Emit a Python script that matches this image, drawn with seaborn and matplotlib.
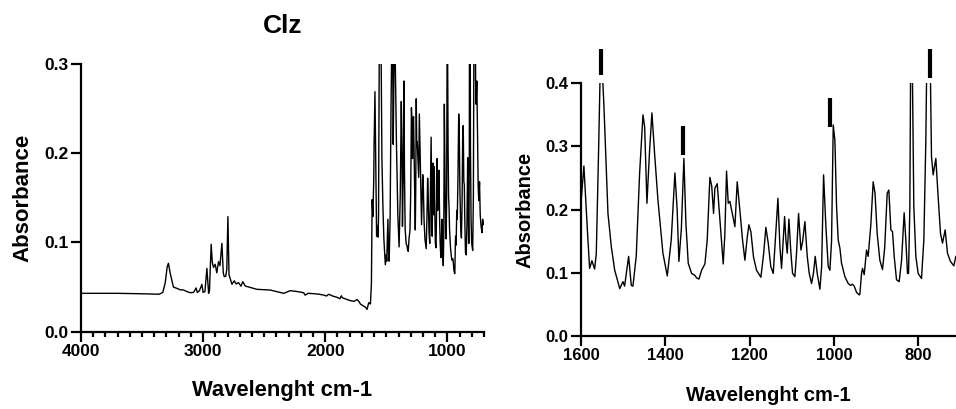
import matplotlib
matplotlib.use("Agg")
import matplotlib.pyplot as plt
import seaborn as sns
import pandas as pd
from matplotlib.ticker import FormatStrFormatter, MultipleLocator

# ---- data ----
wavenumber = [
    4000, 3700, 3500, 3360, 3330, 3310, 3295, 3284, 3270, 3243, 3215, 3188, 3161, 3133, 3106, 3079,
    3057, 3048, 3030, 3010, 3000, 2985, 2969, 2955, 2948, 2934, 2925, 2915, 2901, 2888, 2874, 2862,
    2846, 2835, 2827, 2815, 2806, 2797, 2788, 2783, 2764, 2745, 2729, 2710, 2690, 2675, 2655, 2600,
    2560, 2500, 2450, 2400, 2340, 2286, 2230, 2177, 2165, 2140, 2094, 2050, 2012, 1990, 1971, 1940,
    1903, 1880, 1868, 1860, 1849, 1820, 1794, 1765, 1739, 1725, 1712, 1690, 1671, 1658, 1644, 1630,
    1622, 1616, 1610, 1603,
    1600, 1593, 1585, 1579.5, 1574, 1567.6, 1563.7, 1558, 1555, 1551.5, 1548, 1545.5, 1536, 1528,
    1520, 1508, 1500.5, 1496.5, 1487, 1480.7, 1476.8, 1469, 1461, 1453, 1449, 1443.6, 1437.3,
    1431.8, 1425.5, 1417.5, 1405.7, 1395.4, 1386, 1377.3, 1372, 1367.8, 1362, 1356, 1351.2,
    1345.7, 1337.8, 1330, 1326, 1320.4, 1314.1, 1306.2, 1300.7, 1294.4, 1290, 1285.7, 1282.5,
    1277, 1270.7, 1262.8, 1259, 1254.9, 1250.9, 1247, 1241.4, 1235.1, 1229.6, 1223.3, 1217,
    1211.4, 1206, 1202, 1197.2, 1191, 1183.8, 1173.5, 1167, 1161.7, 1156.1, 1150, 1144.2,
    1133.1, 1128.4, 1124.5, 1117.3, 1114.2, 1111, 1107.1, 1102.3, 1098.4, 1092.9, 1089, 1084.2,
    1078.6, 1074.7, 1069.2, 1063.6, 1058.9, 1053.4, 1049, 1044.7, 1040, 1033.6, 1029.5, 1024.9,
    1019.4, 1013.9, 1009.9, 1006, 1002, 998.1, 994.1, 990.2, 986.2, 982.3, 974.4, 966.5, 960.9,
    956.5, 952.3, 946.7, 940.4, 938.9, 934.9, 932.6, 928.6, 923.1, 919.2, 913, 907.3, 903,
    897.8, 891.5, 885.2, 880, 874.1, 870.2, 865.4, 861.5, 857.5, 852, 845.7, 840, 833.9, 829.9,
    826, 823.5, 820.4, 818.8, 816.5, 814.1, 811, 806.2, 800.7, 792.8, 787.2, 782.5, 780.9, 776,
    771.4, 769.1, 765.1, 758.8, 753.3, 747.7, 743, 736.7, 731.2, 724.1, 716.2, 711.4, 705,
]
absorbance = [
    0.043, 0.043, 0.0425, 0.042, 0.044, 0.055, 0.072, 0.0767, 0.066, 0.050, 0.0486, 0.047, 0.0468, 0.045, 0.0437, 0.044,
    0.049, 0.044, 0.046, 0.053, 0.044, 0.045, 0.071, 0.043, 0.046, 0.098, 0.078, 0.072, 0.0755, 0.066, 0.0785, 0.074,
    0.099, 0.066, 0.0617, 0.062, 0.070, 0.129, 0.064, 0.0617, 0.0532, 0.057, 0.0535, 0.055, 0.051, 0.056, 0.0512, 0.049,
    0.0475, 0.047, 0.0467, 0.045, 0.043, 0.046, 0.045, 0.0437, 0.041, 0.043, 0.0426, 0.042, 0.041, 0.040, 0.042, 0.040,
    0.0385, 0.037, 0.0403, 0.038, 0.0375, 0.036, 0.0348, 0.034, 0.036, 0.034, 0.031, 0.029, 0.0275, 0.025, 0.0325, 0.031,
    0.054, 0.148, 0.129, 0.170,
    0.210, 0.269, 0.170, 0.107, 0.119, 0.106, 0.130, 0.300, 0.400, 0.420, 0.400, 0.363, 0.194, 0.141,
    0.104, 0.075, 0.086, 0.079, 0.126, 0.080, 0.079, 0.126, 0.257, 0.350, 0.331, 0.210, 0.294,
    0.353, 0.289, 0.215, 0.131, 0.095, 0.152, 0.258, 0.200, 0.118, 0.170, 0.281, 0.178,
    0.115, 0.099, 0.096, 0.092, 0.090, 0.104, 0.114, 0.152, 0.251, 0.237, 0.194, 0.234,
    0.241, 0.184, 0.114, 0.160, 0.261, 0.210, 0.213, 0.194, 0.173, 0.244, 0.199, 0.152,
    0.120, 0.155, 0.176, 0.165, 0.125, 0.104, 0.093, 0.130, 0.172, 0.147, 0.110, 0.099,
    0.218, 0.141, 0.107, 0.189, 0.152, 0.131, 0.185, 0.131, 0.099, 0.094, 0.131, 0.194,
    0.136, 0.149, 0.181, 0.126, 0.099, 0.083, 0.099, 0.126, 0.099, 0.074, 0.110, 0.255,
    0.173, 0.110, 0.104, 0.150, 0.334, 0.310, 0.205, 0.152, 0.139, 0.115, 0.094, 0.083, 0.080,
    0.082, 0.079, 0.069, 0.065, 0.066, 0.099, 0.107, 0.097, 0.136, 0.126, 0.175, 0.244, 0.226,
    0.162, 0.120, 0.105, 0.140, 0.226, 0.231, 0.168, 0.165, 0.126, 0.089, 0.086, 0.120, 0.195, 0.152,
    0.099, 0.099, 0.205, 0.400, 0.460, 0.400, 0.205, 0.126, 0.099, 0.091, 0.152, 0.310, 0.400, 0.460,
    0.400, 0.284, 0.255, 0.281, 0.220, 0.162, 0.147, 0.168, 0.131, 0.118, 0.111, 0.126, 0.120,
]

# peak marker bars in the zoomed panel
marker_x = [1553, 1359, 1009, 772]
marker_lo = [0.413, 0.286, 0.331, 0.408]
marker_hi = [0.454, 0.332, 0.376, 0.454]

title = "Clz"
xlabel = "Wavelenght cm-1"
ylabel = "Absorbance"

df = pd.DataFrame({"wn": wavenumber, "A": absorbance})

sns.set_style("ticks")
plt.rcParams["font.family"] = ["Liberation Sans", "DejaVu Sans"]
plt.rcParams["font.weight"] = "bold"
plt.rcParams["axes.labelweight"] = "bold"
plt.rcParams["axes.titleweight"] = "bold"
plt.rcParams["text.color"] = "black"
plt.rcParams["axes.labelcolor"] = "black"
plt.rcParams["xtick.color"] = "black"
plt.rcParams["ytick.color"] = "black"
plt.rcParams["axes.edgecolor"] = "black"

fig = plt.figure(figsize=(9.56, 4.09), dpi=100)
ax1 = fig.add_axes([0.0847, 0.189, 0.4216, 0.6545])
ax2 = fig.add_axes([0.6077, 0.1785, 0.3923, 0.618])

for ax in (ax1, ax2):
    sns.lineplot(data=df, x="wn", y="A", ax=ax, color="black", linewidth=1.0,
                 estimator=None, sort=False)
    for s in ("left", "bottom"):
        ax.spines[s].set_linewidth(1.6)
        ax.spines[s].set_color("black")
    sns.despine(ax=ax)
    ax.yaxis.set_major_formatter(FormatStrFormatter("%.1f"))
    ax.tick_params(which="major", length=7, width=1.6, color="black",
                   labelcolor="black", pad=2)
    ax.tick_params(which="minor", length=3.5, width=1.6, color="black")

# left: full spectrum
ax1.set_xlim(4000, 700)
ax1.set_ylim(0, 0.3)
ax1.set_xticks([4000, 3000, 2000, 1000])
ax1.xaxis.set_minor_locator(MultipleLocator(100))
ax1.set_yticks([0.0, 0.1, 0.2, 0.3])
ax1.tick_params(labelsize=12.5)
ax1.set_xlabel(xlabel, fontsize=15.8, fontweight="bold", labelpad=15, color="black")
ax1.set_ylabel(ylabel, fontsize=16, fontweight="bold", labelpad=8, color="black")
ax1.set_title(title, fontsize=19, fontweight="bold", pad=22, color="black")

# right: fingerprint region
ax2.set_xlim(1600, 711)
ax2.set_ylim(0, 0.4)
ax2.set_xticks([1600, 1400, 1200, 1000, 800])
ax2.set_yticks([0.0, 0.1, 0.2, 0.3, 0.4])
ax2.tick_params(labelsize=12)
ax2.set_xlabel(xlabel, fontsize=14.5, fontweight="bold", labelpad=16, color="black")
ax2.set_ylabel(ylabel, fontsize=14.5, fontweight="bold", labelpad=8, color="black")
ax2.vlines(marker_x, marker_lo, marker_hi, colors="black", linewidth=3, clip_on=False)

for ax in (ax1, ax2):
    for lab in ax.get_xticklabels() + ax.get_yticklabels():
        lab.set_fontweight("bold")

fig.savefig("out.png", dpi=100)
